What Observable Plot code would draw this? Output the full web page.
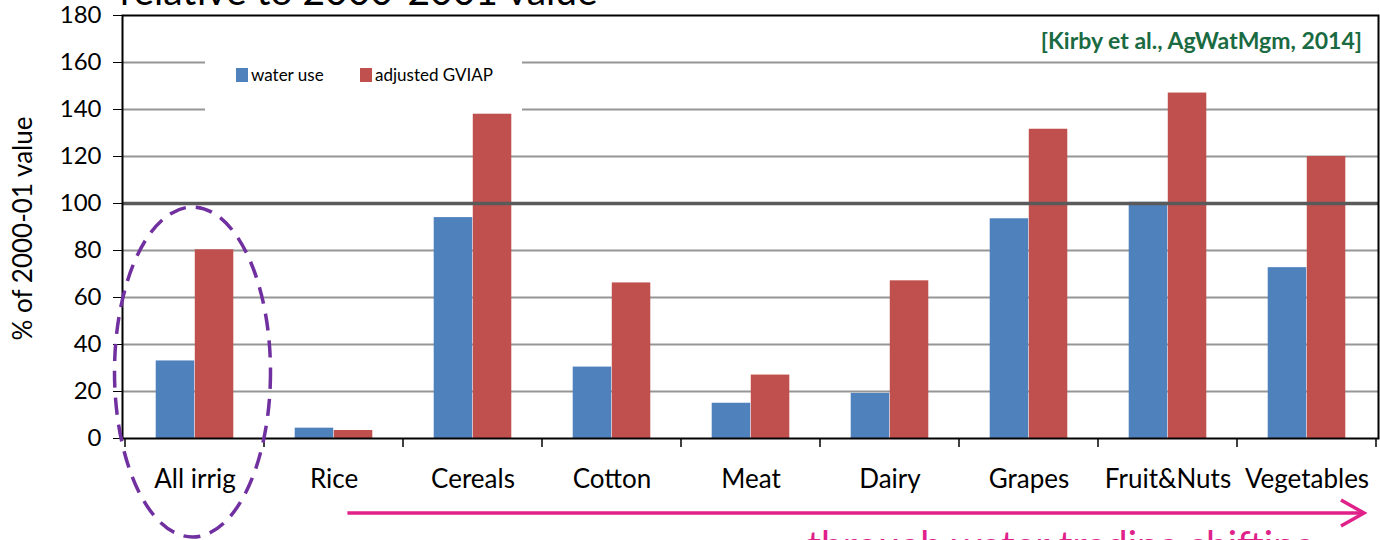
<!DOCTYPE html>
<html><head><meta charset="utf-8">
<script src="https://cdn.jsdelivr.net/npm/d3@7"></script>
<script src="https://cdn.jsdelivr.net/npm/@observablehq/plot@0.6"></script>
<style>
html,body{margin:0;padding:0;background:#fff;overflow:hidden;}
#chart svg{overflow:visible;display:block}
</style></head><body><div id="chart"></div>
<script>
const categories = ["All irrig","Rice","Cereals","Cotton","Meat","Dairy","Grapes","Fruit&Nuts","Vegetables"];
const waterUse = [33, 4.4, 94, 30.4, 15, 19.2, 93.5, 100.5, 72.7];
const adjustedGVIAP = [80.3, 3.4, 138, 66.2, 27, 67.1, 131.6, 147, 120];
const seriesNames = ["water use","adjusted GVIAP"];
const seriesColors = ["#4f81bd","#c0504d"];
const yTicks = [0,20,40,60,80,100,120,140,160,180];
const referenceLevel = [100];
const titleText = "relative to 2000-2001 value";
const yLabel = "% of 2000-01 value";
const citation = "[Kirby et al., AgWatMgm, 2014]";
const arrowText = "through water trading shifting";

const W = 1380, H = 540, mL = 122, mR = 2, mT = 15, mB = 102;
const bw = (W - mL - mR) / categories.length;
const barW = bw * 0.28;
const font = "Lato, 'Open Sans', sans-serif";

const rows = categories.flatMap((c, i) => [
  {category: c, series: seriesNames[0], value: waterUse[i]},
  {category: c, series: seriesNames[1], value: adjustedGVIAP[i]}
]);

const chart = Plot.plot({
  width: W, height: H, marginLeft: mL, marginRight: mR, marginTop: mT, marginBottom: mB,
  style: {fontFamily: font, background: "#fff", color: "#000", overflow: "visible"},
  x: {domain: categories, padding: 0, label: null},
  y: {domain: [0, 180], label: null},
  color: {domain: seriesNames, range: seriesColors},
  marks: [
    Plot.ruleY(yTicks.filter(t => t > 0 && t < 180 && !referenceLevel.includes(t)), {stroke: "#969696", strokeWidth: 2}),
    Plot.barY(rows.filter(d => d.series === seriesNames[0]), {x: "category", y: "value", fill: "series", insetLeft: bw / 2 - barW, insetRight: bw / 2}),
    Plot.barY(rows.filter(d => d.series === seriesNames[1]), {x: "category", y: "value", fill: "series", insetLeft: bw / 2, insetRight: bw / 2 - barW}),
    Plot.ruleY(referenceLevel, {stroke: "#5a5a5a", strokeWidth: 3.5}),
    Plot.frame({stroke: "#000", strokeWidth: 2}),
    Plot.axisY({ticks: yTicks, tickSize: 9, tickPadding: 12, fontSize: 24, label: null, stroke: "#000"}),
    Plot.axisX({tickSize: 0, tickPadding: 31, fontSize: 26, label: null})
  ]
});
document.getElementById("chart").appendChild(chart);

const svg = d3.select(chart);
const x = chart.scale("x"), y = chart.scale("y");
const y0 = y.apply(0), yTop = y.apply(180);
const bandStart = c => x.apply(c);
const bounds = categories.map(bandStart).concat([bandStart(categories[categories.length - 1]) + x.bandwidth]);

// x-axis tick marks at category boundaries
svg.append("g").selectAll("line").data(bounds).join("line")
  .attr("x1", d => d).attr("x2", d => d).attr("y1", y0).attr("y2", y0 + 9)
  .attr("stroke", "#000").attr("stroke-width", 1.5);

// y label
svg.append("text").attr("transform", `translate(25,${(y0 + yTop) / 2 + 2}) rotate(-90)`)
  .attr("text-anchor", "middle").attr("dominant-baseline", "middle")
  .attr("font-family", font).attr("font-size", 26).text(yLabel);

// legend (behind bars)
const firstBar = svg.select("g[aria-label='bar']").node();
const leg = svg.insert("g", () => firstBar);
leg.append("rect").attr("x", 205).attr("y", 40).attr("width", 317).attr("height", 73).attr("fill", "#fff");
const legItems = [{x: 236, tx: 251}, {x: 360, tx: 375}];
seriesNames.forEach((s, i) => {
  leg.append("rect").attr("x", legItems[i].x).attr("y", 68).attr("width", 12).attr("height", 14).attr("fill", seriesColors[i]);
  leg.append("text").attr("x", legItems[i].tx).attr("y", 81).attr("text-anchor", "start")
    .attr("font-family", font).attr("font-size", 17).text(s);
});

// citation
svg.append("text").attr("x", 1362).attr("y", 49).attr("text-anchor", "end")
  .attr("font-family", font).attr("font-size", 23).attr("font-weight", "bold").attr("fill", "#1a6b42").text(citation);

// title (cut off at top)
svg.append("text").attr("x", 120).attr("y", 5).attr("text-anchor", "start")
  .attr("font-family", font).attr("font-size", 39).attr("fill", "#000").text(titleText);

// dashed ellipse around first category
svg.append("ellipse").attr("cx", bandStart(categories[0]) + x.bandwidth / 2 - 2).attr("cy", 372)
  .attr("rx", 78).attr("ry", 165).attr("fill", "none").attr("stroke", "#7030a0")
  .attr("stroke-width", 3.5).attr("stroke-dasharray", "17 10");

// arrow
const ay = 513;
const ax1 = bandStart(categories[1]) + 0.6 * x.bandwidth, ax2 = bounds[bounds.length - 1] - 12;
svg.append("line").attr("x1", ax1).attr("x2", ax2).attr("y1", ay).attr("y2", ay)
  .attr("stroke", "#e0218a").attr("stroke-width", 3.5);
svg.append("polyline").attr("points", `${ax2 - 23},${ay - 13} ${ax2},${ay} ${ax2 - 23},${ay + 13}`)
  .attr("fill", "none").attr("stroke", "#e0218a").attr("stroke-width", 3.5);
svg.append("text").attr("x", 807).attr("y", 559).attr("text-anchor", "start")
  .attr("font-family", font).attr("font-size", 39).attr("fill", "#e0218a").text(arrowText);
</script></body></html>
